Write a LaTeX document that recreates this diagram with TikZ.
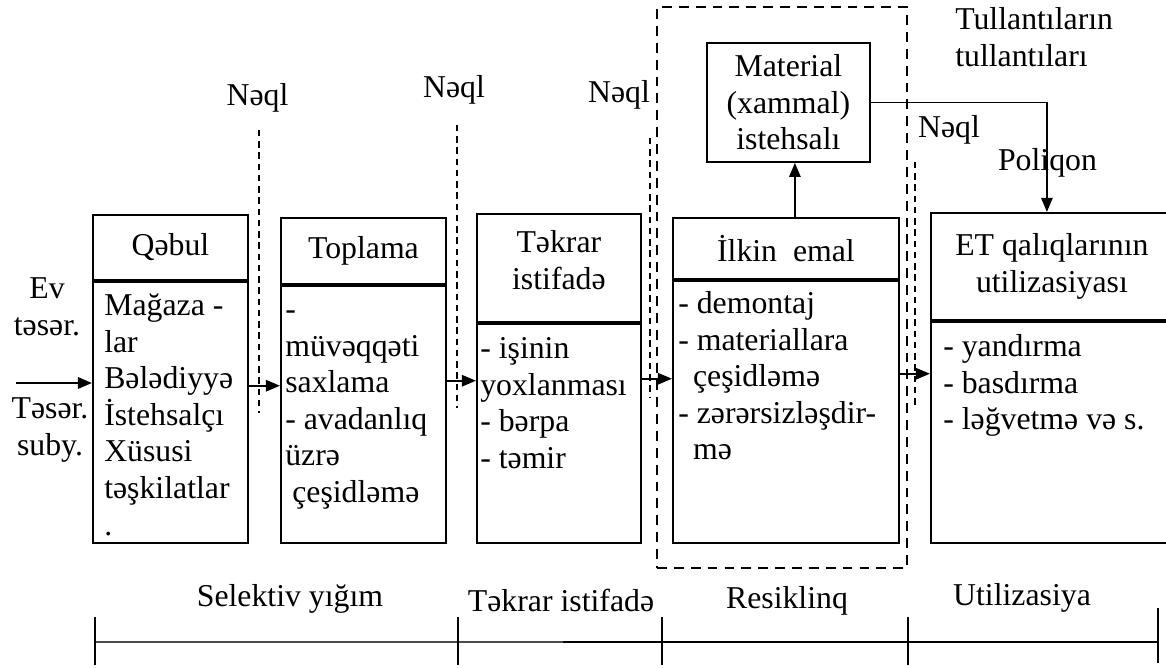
\documentclass[tikz,border=0pt]{standalone}
\usepackage{fontspec}
\setmainfont{Liberation Serif}
\usetikzlibrary{arrows.meta, positioning, fit}
\newdimen\px
\px=0.025cm

\begin{document}
\begin{tikzpicture}[
    x=0.025cm, y=-0.025cm,
    font=\fontsize{22.6pt}{26pt}\selectfont,
    headbox/.style={draw, line width=1.3pt, align=center, inner sep=0pt, anchor=north west},
    bodybox/.style={draw, line width=1.3pt, inner sep=0pt},
    bodytext/.style={align=left, inner sep=0pt, anchor=north west},
    tag/.style={inner sep=0pt, align=center},
    flow/.style={-{Triangle[length=10pt,width=8pt]}, line width=1.4pt},
    feed/.style={line width=0.9pt},
    transport/.style={dash pattern=on 4.5pt off 3.5pt, line width=0.9pt},
    groupbox/.style={draw, dash pattern=on 7pt off 5pt, line width=1.8pt, inner sep=0pt},
    phase/.style={line width=1.2pt}
]
\useasboundingbox (0,0) rectangle (1166,668);
\node[headbox, minimum width=155\px, minimum height=65\px] (qhead) at (92,214) {Qəbul};
\node[bodybox, minimum width=155\px, minimum height=261\px, below=0pt of qhead] (qbody) {};
\node[bodytext, below right=9\px and 12\px of qbody.north west] (qtext) {\strut Mağaza -\\lar\\Bələdiyyə\\İstehsalçı\\Xüsusi\\təşkilatlar\\.};
\node[headbox, minimum width=165\px, minimum height=66\px] (tophead) at (280,217) {Toplama};
\node[bodybox, minimum width=165\px, minimum height=257\px, below=0pt of tophead] (topbody) {};
\node[bodytext, below right=9\px and 5\px of topbody.north west] (toptext) {\strut -\\müvəqqəti\\saxlama\\- avadanlıq\\üzrə\\\hspace{5pt}çeşidləmə};
\node[headbox, minimum width=164\px, minimum height=108\px, text depth=11pt] (reuhead) at (476,213) {Təkrar\\istifadə};
\node[bodybox, minimum width=164\px, minimum height=219\px, below=0pt of reuhead] (reubody) {};
\node[bodytext, below right=10\px and 4\px of reubody.north west] (reutext) {\strut - işinin\\yoxlanması\\- bərpa\\- təmir};
\node[headbox, minimum width=226\px, minimum height=61\px] (prehead) at (672,217) {İlkin\ \ emal};
\node[bodybox, minimum width=226\px, minimum height=262\px, below=0pt of prehead] (prebody) {};
\node[bodytext, below right=8\px and 6\px of prebody.north west] (pretext) {\strut - demontaj\\- materiallara\\\hspace{10.5pt}çeşidləmə\\- zərərsizləşdir-\\\hspace{10.5pt}mə};
\node[headbox, minimum width=242\px, minimum height=107\px] (utihead) at (930,212) {ET qalıqlarının\\utilizasiyası};
\node[bodybox, minimum width=242\px, minimum height=221\px, below=0pt of utihead] (utibody) {};
\node[bodytext, below right=10\px and 13\px of utibody.north west] (utitext) {\strut - yandırma\\- basdırma\\- ləğvetmə və s.};
\node[headbox, minimum width=163\px, minimum height=119\px] (matbox) at (706,42) {Material\\(xammal)\\istehsalı};
\node[tag] (evsub) at (47,307) {Ev\\təsər.};
\node[tag] (tsub) at (50,430) {Təsər.\\suby.};
\node[tag] (naql1) at (257.5,98) {Nəql};
\node[tag] (naql2) at (454,90) {Nəql};
\node[tag] (naql3) at (619,95) {Nəql};
\node[tag] (naql4) at (949,130) {Nəql};
\node[tag, align=left, anchor=west] (waste) at (955,37) {Tullantıların\\tullantıları};
\node[tag] (poligon) at (1047.5,163) {Poliqon};
\foreach \lx/\ya/\yb in {259/130/413, 457/125/408, 650/138/397, 915/162/405}
    \draw[transport] (\lx,\ya) -- (\lx,\yb);
\coordinate (rtl) at (657,7);
\coordinate (rbr) at (907,568);
\node[groupbox, fit=(rtl)(rbr)] (recycle) {};
\coordinate (src) at (16,383);
\draw[flow, line width=1.8pt] (src) -- (src -| qbody.west);
\coordinate (q2t) at ([yshift=26.5\px]qbody.east);
\draw[flow] (q2t) -- (q2t -| topbody.west);
\coordinate (t2r) at ([yshift=33.5\px]topbody.east);
\draw[flow] (t2r) -- (t2r -| reubody.west);
\coordinate (r2p) at ([yshift=54.5\px]reubody.east);
\draw[flow] (r2p) -- (r2p -| prebody.west);
\coordinate (p2u) at ([yshift=38\px]prebody.east);
\draw[flow] (p2u) -- (p2u -| utibody.west);
\coordinate (upfrom) at ([xshift=9\px]prehead.north);
\draw[flow] (upfrom) -- (upfrom |- matbox.south);
\coordinate (polturn) at ([xshift=-5\px]utihead.north |- matbox.east);
\draw[feed] (matbox.east) -- (polturn);
\draw[flow] (polturn) -- (polturn |- utihead.north);
\node[tag] (selective) at (290,599) {Selektiv yığım};
\node[tag] (reuse) at (561,600) {Təkrar istifadə};
\node[tag] (recycling) at (787,601) {Resiklinq};
\node[tag] (utilize) at (1022,598) {Utilizasiya};
\coordinate (t0) at (95,642);
\coordinate (t1) at (458,642);
\coordinate (t2) at (662,642);
\coordinate (t3) at (908,642);
\coordinate (t4) at (1158,642);
\coordinate (tmid) at (563,642);
\draw[line width=0.8pt, black!70] (t0) -- (tmid);
\draw[line width=1.3pt] (tmid) -- (t4);
\foreach \t in {t0,t1,t2,t3}
    \draw[phase] ([yshift=25\px]\t) -- ([yshift=-23\px]\t);
\draw[phase] ([yshift=34\px]t4) -- ([yshift=-21\px]t4);
\end{tikzpicture}
\end{document}
